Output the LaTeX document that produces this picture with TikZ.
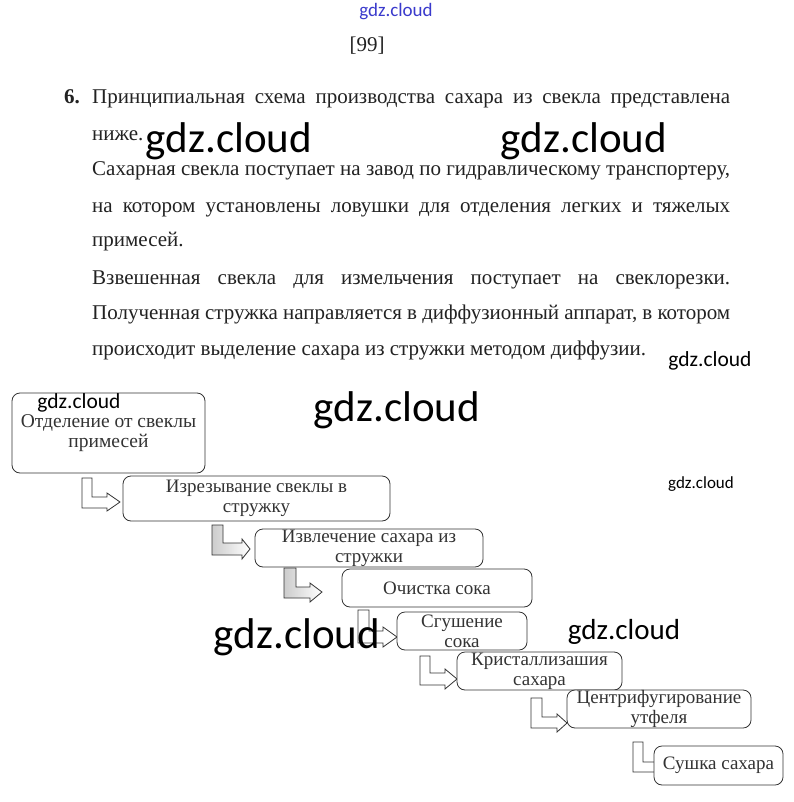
\documentclass[tikz,border=0pt]{standalone}
\usepackage{fontspec}
\setmainfont{Liberation Serif}
\newfontfamily\wmfont{Carlito}
\definecolor{ink}{HTML}{222222}
\definecolor{boxink}{HTML}{333333}
\definecolor{wmblue}{HTML}{3A3ACC}
\tikzset{
 stepbox/.style={draw=boxink, line width=0.8pt, rounded corners=8pt, fill=white, inner sep=0pt, align=center, text=boxink, font=\fontsize{19}{20}\selectfont},
 larrow/.style={draw=boxink, line width=0.8pt, fill=white, line join=miter},
 garrow/.style={draw=boxink, line width=0.8pt, left color=gray!40, right color=white, line join=miter},
 bodyline/.style={anchor=base west, inner sep=0pt, text=ink, font=\fontsize{21}{24}\selectfont},
 wm/.style={inner sep=0pt, text=black, font=\wmfont\fontsize{#1}{#1}\selectfont},
}
\newcommand\fullline[1]{\makebox[638pt][s]{#1}}
\begin{document}
\begin{tikzpicture}[x=1pt, y=-1pt]
\useasboundingbox (0,0) rectangle (793,802);
\fill[white] (0,0) rectangle (793,802);

% header
\node[anchor=base, inner sep=0pt, text=ink, font=\fontsize{21}{21}\selectfont] (page) at (367,52) {[99]};

% paragraph
\node[bodyline] (num) at (64,104) {\bfseries 6.};
\node[bodyline] (l1) at (92,104) {\fullline{Принципиальная схема производства сахара из свекла представлена}};
\node[bodyline] (l2) at (92,141) {ниже.};
\node[bodyline] (l3) at (92,176) {\fullline{Сахарная свекла поступает на завод по гидравлическому транспортеру,}};
\node[bodyline] (l4) at (92,212) {\fullline{на котором установлены ловушки для отделения легких и тяжелых}};
\node[bodyline] (l5) at (92,246) {примесей.};
\node[bodyline] (l6) at (92,284) {\fullline{Взвешенная свекла для измельчения поступает на свеклорезки.}};
\node[bodyline] (l7) at (92,319) {\fullline{Полученная стружка направляется в диффузионный аппарат, в котором}};
\node[bodyline] (l8) at (92,355) {происходит выделение сахара из стружки методом диффузии.};

% arrows
\draw[larrow] (82,478) -- (92,478) -- (92,497) -- (107,497) -- (107,493) -- (120,502) -- (107,511) -- (107,508) -- (82,508) -- cycle;
\draw[garrow] (212,525) -- (223,525) -- (223,543) -- (242,543) -- (242,539) -- (250,549) -- (242,559) -- (242,555) -- (212,555) -- cycle;
\draw[garrow] (284,568) -- (296,568) -- (296,587) -- (310,587) -- (310,583) -- (322,592) -- (310,602) -- (310,598) -- (284,598) -- cycle;
\draw[larrow] (358,610) -- (369,610) -- (369,631) -- (383,631) -- (383,627) -- (397,637) -- (383,647) -- (383,643) -- (358,643) -- cycle;
\draw[larrow] (420,656) -- (430,656) -- (430,673) -- (445,673) -- (445,669) -- (457,679) -- (445,689) -- (445,685) -- (420,685) -- cycle;
\draw[larrow] (531,698) -- (542,698) -- (542,717) -- (557,717) -- (557,714) -- (567,723) -- (557,732) -- (557,728) -- (531,728) -- cycle;
\draw[larrow] (633,742) -- (643,742) -- (643,762) -- (656,762) -- (656,758) -- (668,767) -- (656,776) -- (656,772) -- (633,772) -- cycle;

% boxes
\node[stepbox, minimum width=193pt, minimum height=80pt, font=\fontsize{19.5}{20.5}\selectfont] (b1) at (108.5,433) {Отделение от свеклы\\примесей};
\node[stepbox, minimum width=267pt, minimum height=45pt] (b2) at (256.5,498.5) {Изрезывание свеклы в\\стружку};
\node[stepbox, minimum width=228pt, minimum height=38pt] (b3) at (369,548) {Извлечение сахара из\\стружки};
\node[stepbox, minimum width=190pt, minimum height=38pt] (b4) at (437,588) {Очистка сока};
\node[stepbox, minimum width=130pt, minimum height=38pt] (b5) at (462,631) {Сгушение\\сока};
\node[stepbox, minimum width=165pt, minimum height=38pt] (b6) at (539.5,671) {Кристаллизашия\\сахара};
\node[stepbox, minimum width=184pt, minimum height=38pt] (b7) at (659,709) {Центрифугирование\\утфеля};
\node[stepbox, minimum width=129pt, minimum height=39pt] (b8) at (718.5,765.5) {Сушка сахара};

% watermarks
\node[inner sep=0pt, text=wmblue, font=\wmfont\fontsize{19}{19}\selectfont] (wm0) at (396,12) {gdz.cloud};
\node[wm=43] (wm1) at (229,141) {gdz.cloud};
\node[wm=43] (wm2) at (584,141) {gdz.cloud};
\node[wm=21.5] (wm3) at (710,361) {gdz.cloud};
\node[wm=21.5] (wm4) at (79,403) {gdz.cloud};
\node[wm=43] (wm5) at (397,410) {gdz.cloud};
\node[wm=17] (wm6) at (701,484) {gdz.cloud};
\node[wm=43] (wm7) at (297,637) {gdz.cloud};
\node[wm=29] (wm8) at (624,632) {gdz.cloud};
\end{tikzpicture}
\end{document}
